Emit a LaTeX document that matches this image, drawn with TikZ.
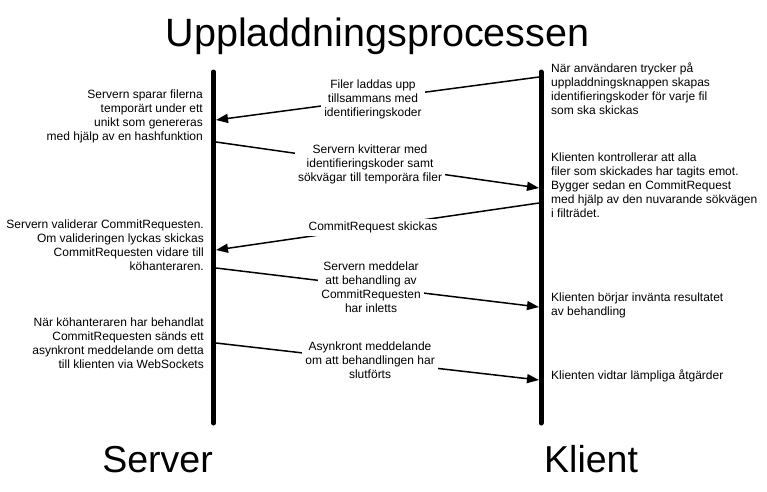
\documentclass[tikz,border=0pt]{standalone}
\usepackage{fontspec}
\setmainfont{Liberation Sans}
\usetikzlibrary{arrows.meta}
\tikzset{
  lifeline/.style={line width=5pt, line cap=round},
  msg/.style={line width=1.5pt, -{Triangle[length=12pt,width=9pt]}},
  msglabel/.style={fill=white, inner sep=3pt, align=center, font=\fontsize{12}{14}\selectfont},
  lnote/.style={anchor=north east, inner sep=0pt, align=right, font=\fontsize{12}{14}\selectfont},
  rnote/.style={anchor=north west, inner sep=0pt, align=left, font=\fontsize{12}{14}\selectfont},
  bigtitle/.style={font=\fontsize{39.5}{44}\selectfont, inner sep=0pt},
  actor/.style={font=\fontsize{37.5}{42}\selectfont, inner sep=0pt}
}
\begin{document}
\begin{tikzpicture}[x=1pt,y=-1pt]
\useasboundingbox (0,0) rectangle (767,491);
\node[bigtitle, anchor=base] (title) at (377.5,46) {Uppladdningsprocessen};
% lifelines
\coordinate (stop) at (213.5,72);
\coordinate (sbot) at (213.5,423);
\coordinate (ctop) at (541,72);
\coordinate (cbot) at (541,423);
\draw[lifeline] (stop) -- (sbot);
\draw[lifeline] (ctop) -- (cbot);
\node[actor, anchor=base east] (server) at (213,472) {Server};
\node[actor, anchor=base west] (klient) at (544,472) {Klient};
% endpoints
\coordinate (c1) at (539,77);   \coordinate (s1) at (216,120);
\coordinate (s2) at (216,142);  \coordinate (c2) at (539,188);
\coordinate (c3) at (539,203);  \coordinate (s3) at (216,250);
\coordinate (s4) at (216,268);  \coordinate (c4) at (539,307);
\coordinate (s5) at (216,343);  \coordinate (c5) at (539,380);
% messages
\draw[msg] (c1) -- node[msglabel, pos=0.514] (m1) {Filer laddas upp\\tillsammans med\\identifieringskoder} (s1);
\draw[msg] (s2) -- node[msglabel, pos=0.477] (m2) {Servern kvitterar med\\identifieringskoder samt\\sökvägar till temporära filer} (c2);
\draw[msg] (c3) -- node[msglabel, pos=0.514] (m3) {CommitRequest skickas} (s3);
\draw[msg] (s4) -- node[msglabel, pos=0.48] (m4) {Servern meddelar\\att behandling av\\CommitRequesten\\har inletts} (c4);
\draw[msg] (s5) -- node[msglabel, pos=0.477] (m5) {Asynkront meddelande\\om att behandlingen har\\slutförts} (c5);
% server notes
\node[lnote] (n1) at (203,90) {Servern sparar filerna\\temporärt under ett\\unikt som genereras\\med hjälp av en hashfunktion};
\node[lnote] (n2) at (204,220) {Servern validerar CommitRequesten.\\Om valideringen lyckas skickas\\CommitRequesten vidare till\\köhanteraren.};
\node[lnote] (n3) at (204,318) {När köhanteraren har behandlat\\CommitRequesten sänds ett\\asynkront meddelande om detta\\till klienten via WebSockets};
% client notes
\node[rnote] (k1) at (551,63) {När användaren trycker på\\uppladdningsknappen skapas\\identifieringskoder för varje fil\\som ska skickas};
\node[rnote] (k2) at (551,153) {Klienten kontrollerar att alla\\filer som skickades har tagits emot.\\Bygger sedan en CommitRequest\\med hjälp av den nuvarande sökvägen\\i filträdet.};
\node[rnote] (k3) at (551,293) {Klienten börjar invänta resultatet\\av behandling};
\node[rnote] (k4) at (551,370) {Klienten vidtar lämpliga åtgärder};
\end{tikzpicture}
\end{document}
